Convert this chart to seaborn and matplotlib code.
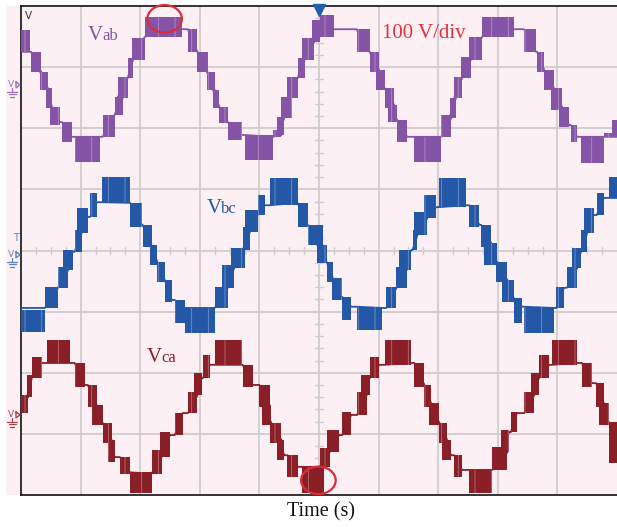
import numpy as np
import pandas as pd
import matplotlib
matplotlib.use("Agg")
import matplotlib.pyplot as plt
import seaborn as sns
from matplotlib.patches import Ellipse, Rectangle
from matplotlib.lines import Line2D

# ---------------- data (screen divisions: x 0..10, y -4..4; 100 V/div) ----------------
# Each waveform is a sequence of PWM "chatter" blocks between two adjacent levels.
vab_x0 = [0.00, 0.17, 0.32, 0.42, 0.49, 0.69, 0.90, 1.37, 1.57, 1.62, 1.79, 1.86, 2.08,
          2.80, 2.96, 3.12, 3.22, 3.32, 3.47, 3.75, 4.22, 4.30, 4.37, 4.47, 4.64, 4.71, 4.89, 5.01,
          5.63, 5.85, 5.96, 6.10, 6.15, 6.31, 6.60, 7.05, 7.19, 7.27, 7.39, 7.52, 7.74,
          8.44, 8.66, 8.78, 8.89, 9.03, 9.23, 9.40, 9.78, 9.92]
vab_x1 = [0.15, 0.34, 0.45, 0.52, 0.65, 0.85, 1.32, 1.57, 1.71, 1.79, 1.88, 2.08, 2.70,
          2.96, 3.13, 3.25, 3.33, 3.47, 3.70, 4.22, 4.37, 4.42, 4.54, 4.64, 4.76, 4.92, 5.01, 5.26,
          5.85, 6.01, 6.10, 6.26, 6.31, 6.48, 7.05, 7.22, 7.30, 7.40, 7.55, 7.74, 8.27,
          8.64, 8.78, 8.94, 9.08, 9.20, 9.33, 9.78, 9.92, 10.0]
vab_lo = [3.25, 2.92, 2.63, 2.33, 2.05, 1.78, 1.45, 1.86, 2.22, 2.50, 2.82, 3.12, 3.50,
          3.25, 2.92, 2.63, 2.33, 2.09, 1.81, 1.48, 1.86, 1.89, 2.17, 2.50, 2.82, 3.12, 3.41, 3.50,
          3.25, 2.92, 2.63, 2.33, 2.10, 1.78, 1.45, 1.86, 2.17, 2.50, 2.82, 3.12, 3.50,
          3.25, 2.92, 2.63, 2.30, 2.02, 1.78, 1.43, 1.86, 1.86]
vab_hi = [3.61, 3.25, 2.92, 2.66, 2.35, 2.10, 1.86, 2.22, 2.51, 2.84, 3.15, 3.48, 3.82,
          3.62, 3.25, 2.92, 2.63, 2.35, 2.10, 1.89, 1.97, 2.18, 2.51, 2.84, 3.15, 3.48, 3.77, 3.85,
          3.62, 3.25, 2.95, 2.66, 2.38, 2.14, 1.86, 2.22, 2.50, 2.84, 3.17, 3.49, 3.82,
          3.62, 3.25, 2.95, 2.66, 2.35, 2.05, 1.86, 1.92, 2.14]

vbc_x0 = [0.00, 0.40, 0.62, 0.70, 0.90, 0.94, 1.16, 1.36, 1.83, 2.04, 2.16, 2.29, 2.41, 2.58,
          2.75, 3.25, 3.38, 3.53, 3.72, 3.75, 3.97, 4.17, 4.64, 4.81, 4.97, 5.13, 5.21, 5.39,
          5.64, 6.13, 6.30, 6.35, 6.57, 6.60, 6.77, 7.02, 7.52, 7.72, 7.77, 7.97, 8.07, 8.27,
          8.44, 8.98, 9.16, 9.25, 9.40, 9.45, 9.66, 9.87]
vbc_x1 = [0.40, 0.62, 0.79, 0.87, 1.02, 1.12, 1.27, 1.83, 2.03, 2.19, 2.29, 2.41, 2.53, 2.75,
          3.25, 3.47, 3.58, 3.75, 3.84, 3.97, 4.09, 4.64, 4.81, 5.06, 5.13, 5.23, 5.38, 5.54,
          6.06, 6.30, 6.47, 6.55, 6.65, 6.82, 6.97, 7.47, 7.69, 7.89, 7.99, 8.16, 8.27, 8.41,
          8.94, 9.11, 9.33, 9.40, 9.50, 9.61, 9.78, 10.0]
vbc_lo = [-1.33, -0.94, -0.61, -0.32, -0.02, 0.29, 0.55, 0.79, 0.38, 0.06, -0.24, -0.52, -0.84, -1.19,
          -1.35, -0.94, -0.61, -0.29, 0.01, 0.30, 0.58, 0.74, 0.38, 0.09, -0.20, -0.52, -0.81, -1.14,
          -1.30, -0.94, -0.61, -0.32, 0.01, 0.25, 0.53, 0.71, 0.38, 0.06, -0.24, -0.52, -0.84, -1.19,
          -1.35, -0.94, -0.61, -0.29, -0.02, 0.29, 0.58, 0.86]
vbc_hi = [-0.97, -0.60, -0.27, 0.01, 0.34, 0.70, 0.94, 1.20, 0.78, 0.42, 0.09, -0.19, -0.48, -0.81,
          -0.94, -0.60, -0.24, 0.04, 0.38, 0.66, 0.91, 1.19, 0.78, 0.42, 0.09, -0.19, -0.45, -0.76,
          -0.92, -0.60, -0.27, 0.01, 0.34, 0.63, 0.91, 1.19, 0.74, 0.42, 0.12, -0.19, -0.48, -0.78,
          -0.92, -0.60, -0.27, 0.04, 0.34, 0.70, 0.94, 1.20]

vca_x0 = [0.00, 0.10, 0.18, 0.44, 0.90, 1.12, 1.19, 1.37, 1.46, 1.66, 1.83, 2.19, 2.33, 2.58,
          2.80, 2.91, 3.05, 3.25, 3.72, 4.00, 4.04, 4.17, 4.30, 4.47, 4.71, 5.01, 5.14, 5.39,
          5.64, 5.71, 5.85, 6.10, 6.60, 6.77, 6.85, 7.02, 7.07, 7.27, 7.52, 7.91, 8.06, 8.22,
          8.44, 8.56, 8.69, 8.91, 9.41, 9.65, 9.70, 9.87]
vca_x1 = [0.12, 0.18, 0.35, 0.82, 1.07, 1.27, 1.37, 1.52, 1.57, 1.83, 2.19, 2.36, 2.50, 2.71,
          2.96, 3.03, 3.17, 3.70, 3.89, 4.17, 4.20, 4.37, 4.42, 4.64, 5.09, 5.18, 5.34, 5.54,
          5.80, 5.85, 6.01, 6.55, 6.77, 6.88, 7.02, 7.15, 7.22, 7.40, 7.91, 8.16, 8.19, 8.32,
          8.61, 8.69, 8.86, 9.33, 9.58, 9.78, 9.87, 10.0]
vca_lo = [-2.66, -2.40, -2.09, -1.84, -2.23, -2.56, -2.86, -3.15, -3.46, -3.65, -3.97, -3.65, -3.38, -3.02,
          -2.66, -2.37, -2.09, -1.87, -2.23, -2.56, -2.86, -3.15, -3.43, -3.71, -3.97, -3.54, -3.30, -3.02,
          -2.69, -2.37, -2.09, -1.87, -2.23, -2.56, -2.86, -3.15, -3.43, -3.71, -3.97, -3.59, -3.30, -2.97,
          -2.66, -2.37, -2.09, -1.87, -2.23, -2.56, -2.86, -3.48]
vca_hi = [-2.37, -2.04, -1.74, -1.47, -1.84, -2.20, -2.53, -2.82, -3.10, -3.38, -3.63, -3.27, -2.97, -2.66,
          -2.32, -2.00, -1.71, -1.47, -1.87, -2.20, -2.53, -2.82, -3.10, -3.35, -3.54, -3.23, -2.94, -2.64,
          -2.32, -2.04, -1.74, -1.47, -1.84, -2.20, -2.50, -2.82, -3.10, -3.35, -3.59, -3.22, -2.94, -2.64,
          -2.32, -2.00, -1.71, -1.47, -1.84, -2.17, -2.50, -2.82]

series_names = ["Vab", "Vbc", "Vca"]
series_colors = ["#8654A6", "#2457A6", "#8A1F28"]
streak_colors = ["#B48EC6", "#7193CB", "#BB6D74"]
marker_colors = ["#9C74B8", "#5C84C2", "#A4464E"]
ground_divs = [2.71, -0.07, -2.69]        # channel ground markers (div)
highlight_x = [2.41, 4.99]                # red circles (div)
highlight_y = [3.79, -3.76]
scale_text = "100 V/div"
xlabel_text = "Time (s)"

# ---------------- figure ----------------
sns.set_theme(style="white")
plt.rcParams["font.family"] = ["DejaVu Sans"]
plt.rcParams["hatch.linewidth"] = 0.6
W, H = 617, 527
fig = plt.figure(figsize=(W / 100, H / 100), dpi=100)
fig.patch.set_facecolor("white")
pink = "#FCF0F4"
fig.add_artist(Rectangle((6 / W, (H - 495) / H), (W - 6) / W, 489 / H,
                         transform=fig.transFigure, facecolor=pink, edgecolor="none", zorder=0))

ax = fig.add_axes([21 / W, (H - 495) / H, (W - 21) / W, 489 / H])
ax.set_facecolor(pink)
ax.set_xlim(0, 10)
ax.set_ylim(-4, 4)

grid_c = "#D0CCCE"
for gx in range(1, 10):
    ax.axvline(gx, color=grid_c, lw=1.3, zorder=1)
for gy in range(-3, 4):
    ax.axhline(gy, color=grid_c, lw=1.3, zorder=1)
# minor ticks on the centre lines
for tx in np.arange(0.25, 10, 0.25):
    if abs(tx - round(tx)) > 1e-6:
        ax.plot([tx, tx], [-0.05, 0.05], color=grid_c, lw=1.0, zorder=1)
for ty in np.arange(-3.8, 4, 0.2):
    if abs(ty - round(ty)) > 1e-6:
        ax.plot([4.93, 5.07], [ty, ty], color=grid_c, lw=1.0, zorder=1)

for s in ["left", "top", "bottom"]:
    ax.spines[s].set_visible(True)
    ax.spines[s].set_color("#111111")
    ax.spines[s].set_linewidth(1.2)
ax.spines["right"].set_visible(False)
ax.set_xticks([])
ax.set_yticks([])


def draw_wave(x0, x1, lo, hi, color, streak):
    x0 = np.asarray(x0); x1 = np.asarray(x1)
    lo = np.asarray(lo); hi = np.asarray(hi)
    mid = (lo + hi) / 2
    n = len(x0)
    # level held between consecutive blocks
    trans = []
    for i in range(n - 1):
        trans.append(hi[i + 1] if mid[i + 1] < mid[i] else lo[i + 1])
    xs, ys = [], []
    for i in range(n):
        lin = trans[i - 1] if i > 0 else trans[0]
        lout = trans[i] if i < n - 1 else trans[-1]
        xs += [x0[i], x1[i]]
        ys += [lin, lout]
    df = pd.DataFrame({"t": xs, "v": ys})
    sns.lineplot(data=df, x="t", y="v", sort=False, estimator=None, color=color,
                 lw=1.3, ax=ax, zorder=3)
    ax.bar(x0, hi - lo, bottom=lo, width=x1 - x0, align="edge", color=color,
           edgecolor=streak, hatch="|", linewidth=0, zorder=3)


draw_wave(vab_x0, vab_x1, vab_lo, vab_hi, series_colors[0], streak_colors[0])
draw_wave(vbc_x0, vbc_x1, vbc_lo, vbc_hi, series_colors[1], streak_colors[1])
draw_wave(vca_x0, vca_x1, vca_lo, vca_hi, series_colors[2], streak_colors[2])
ax.set_xlabel("")
ax.set_ylabel("")
ax.set_xlim(0, 10)
ax.set_ylim(-4, 4)

# labels
serif = "Liberation Serif"
ax.text(1.12, 3.45, "V", family=serif, fontsize=15, color=series_colors[0], zorder=5)
ax.text(1.36, 3.45, "ab", family=serif, fontsize=12, color=series_colors[0], zorder=5)
ax.text(3.12, 0.61, "V", family=serif, fontsize=15, color=series_colors[1], zorder=5)
ax.text(3.36, 0.61, "bc", family=serif, fontsize=12, color=series_colors[1], zorder=5)
ax.text(2.11, -1.83, "V", family=serif, fontsize=15, color=series_colors[2], zorder=5)
ax.text(2.35, -1.83, "ca", family=serif, fontsize=12, color=series_colors[2], zorder=5)
ax.text(6.05, 3.47, scale_text, family=serif, fontsize=15, color="#E3303A", zorder=5)
ax.text(0.07, 3.78, "V", fontsize=7.5, color="#333333", zorder=5)

# highlight circles
for hx, hy in zip(highlight_x, highlight_y):
    ax.add_patch(Ellipse((hx, hy), 0.58, 0.45, fill=False, edgecolor="#E02A35",
                         lw=1.6, zorder=6, clip_on=False))

# trigger marker at top centre
ax.plot([5.0], [3.93], marker="v", ms=8, color="#1F5FAA", clip_on=False, zorder=7)

# channel ground markers in the left margin
yf = lambda p: (H - p) / H
xf = lambda p: p / W
for gd, mc in zip(ground_divs, marker_colors):
    py = 250.5 - gd * 61.1
    fig.add_artist(Line2D([xf(16), xf(20), xf(16), xf(16)], [yf(py - 3), yf(py), yf(py + 3), yf(py - 3)],
                          transform=fig.transFigure, color=mc, lw=1.0))
    fig.text(xf(11), yf(py), "V", fontsize=6.5, color=mc, ha="center", va="center")
    fig.add_artist(Line2D([xf(12), xf(12)], [yf(py + 3), yf(py + 7)], transform=fig.transFigure, color=mc, lw=0.9))
    for k, wdt in enumerate([5, 3.5, 1.8]):
        fig.add_artist(Line2D([xf(12 - wdt), xf(12 + wdt)], [yf(py + 7 + 2.5 * k)] * 2,
                              transform=fig.transFigure, color=mc, lw=0.9))
fig.text(16 / W, (H - 238) / H, "T", fontsize=7, color=marker_colors[1], ha="center", va="center")

fig.text(321 / W, (H - 512) / H, xlabel_text, family=serif, fontsize=14.5, color="#111111",
         ha="center", va="center")

fig.savefig("out.png", dpi=100, facecolor="white")
